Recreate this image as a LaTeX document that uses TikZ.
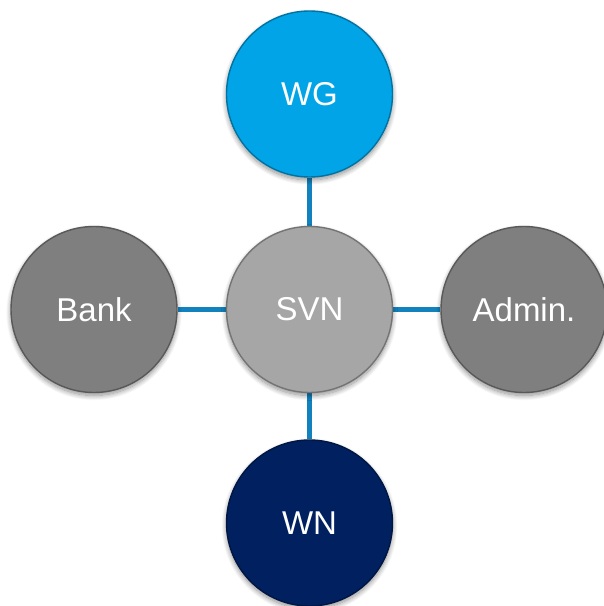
\documentclass[tikz,border=0pt]{standalone}
\usepackage{fontspec}
\setmainfont{Liberation Sans}
\usetikzlibrary{backgrounds,shadows.blur}
\definecolor{wgblue}{RGB}{2,164,232}
\definecolor{svngray}{RGB}{166,166,166}
\definecolor{midgray}{RGB}{127,127,127}
\definecolor{wnnavy}{RGB}{0,32,96}
\definecolor{linkblue}{RGB}{18,130,190}
\tikzset{
  disc/.style={circle, minimum size=166pt, inner sep=0pt, text=white,
    font=\fontsize{33}{40}\selectfont,
    draw=#1!70!black, line width=1.4pt, fill=#1,
    blur shadow={shadow xshift=0pt, shadow yshift=-3pt, shadow blur radius=5pt,
      shadow blur steps=12, shadow opacity=45}},
  link/.style={draw=linkblue, line width=4.5pt}
}
\begin{document}
\begin{tikzpicture}[x=1pt,y=1pt]
  \useasboundingbox (0,0) rectangle (604,606);
  \node[disc=svngray] (svn) at (309.5,296.5) {SVN};
  \node[disc=wgblue] (wg) at (309.5,512) {WG};
  \node[disc=wnnavy] (wn) at (309.5,83) {WN};
  \node[disc=midgray] (bank) at (94,296.5) {Bank};
  \node[disc=midgray] (admin) at (524,296.5) {Admin.};
  \begin{scope}[on background layer]
    \draw[link] (svn) -- (wg);
    \draw[link] (svn) -- (wn);
    \draw[link] (svn) -- (bank);
    \draw[link] (svn) -- (admin);
  \end{scope}
\end{tikzpicture}
\end{document}
